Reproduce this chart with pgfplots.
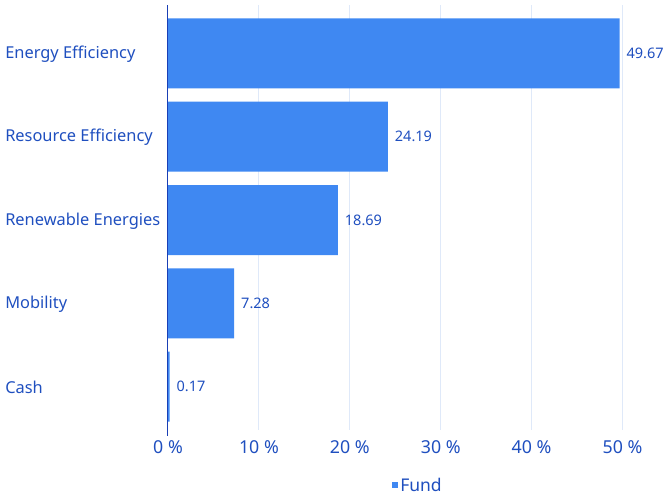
\documentclass[border=0pt]{standalone}
\usepackage{fontspec}
\setmainfont{Noto Sans}
\usepackage{pgfplots}
\pgfplotsset{compat=1.18}
\definecolor{barblue}{HTML}{3F88F2}
\definecolor{txtblue}{HTML}{1F4FBF}
\definecolor{gridblue}{HTML}{DFE9F9}
\definecolor{axisblue}{HTML}{1A3FB5}
\begin{document}
\begin{tikzpicture}[x=1pt,y=1pt]
\begin{axis}[
  at={(168pt,65pt)}, anchor=south west,
  scale only axis,
  width=500pt, height=425pt,
  xmin=0, xmax=55,
  ymin=-0.58, ymax=4.52,
  y dir=reverse,
  xbar, bar width=0.84,
  xtick={0,10,20,30,40,50},
  xticklabel={\pgfmathprintnumber{\tick}~\%},
  xtick style={draw=none},
  ytick={0,1,2,3,4},
  yticklabels={Energy Efficiency,Resource Efficiency,Renewable Energies,Mobility,Cash},
  ytick style={draw=none},
  yticklabel style={anchor=west, xshift=-162pt, yshift=-1pt, font=\fontsize{16.4}{18}\selectfont, text=txtblue},
  xticklabel style={font=\fontsize{17.8}{19}\selectfont, text=txtblue, yshift=-7pt},
  /pgf/number format/assume math mode=true,
  xmajorgrids, major grid style={gridblue, line width=1pt},
  axis line style={draw=none},
  axis x line*=bottom, axis y line*=left,
  nodes near coords,
  nodes near coords style={anchor=west, font=\fontsize{14.5}{16}\selectfont, text=txtblue, /pgf/number format/fixed, /pgf/number format/precision=2, /pgf/number format/fixed zerofill, xshift=3.5pt},
  point meta=explicit,
  legend style={at={(0.5,-0.105)}, anchor=north, draw=none, font=\fontsize{17.5}{19}\selectfont, text=txtblue, legend columns=1, inner sep=1pt},
  legend image code/.code={\fill[barblue] (0pt,-3pt) rectangle (6pt,3pt);},
  clip=false,
]
\addplot[fill=barblue, draw=none] coordinates {
  (49.67,0) [49.67]
  (24.19,1) [24.19]
  (18.69,2) [18.69]
  (7.28,3) [7.28]
  (0.17,4) [0.17]
};
\addlegendentry{Fund}
\draw[axisblue, line width=1pt] (axis cs:0,-0.58) -- (axis cs:0,4.59);
\end{axis}
\pgfresetboundingbox
\path (0,0) rectangle (670pt,495pt);
\end{tikzpicture}
\end{document}
